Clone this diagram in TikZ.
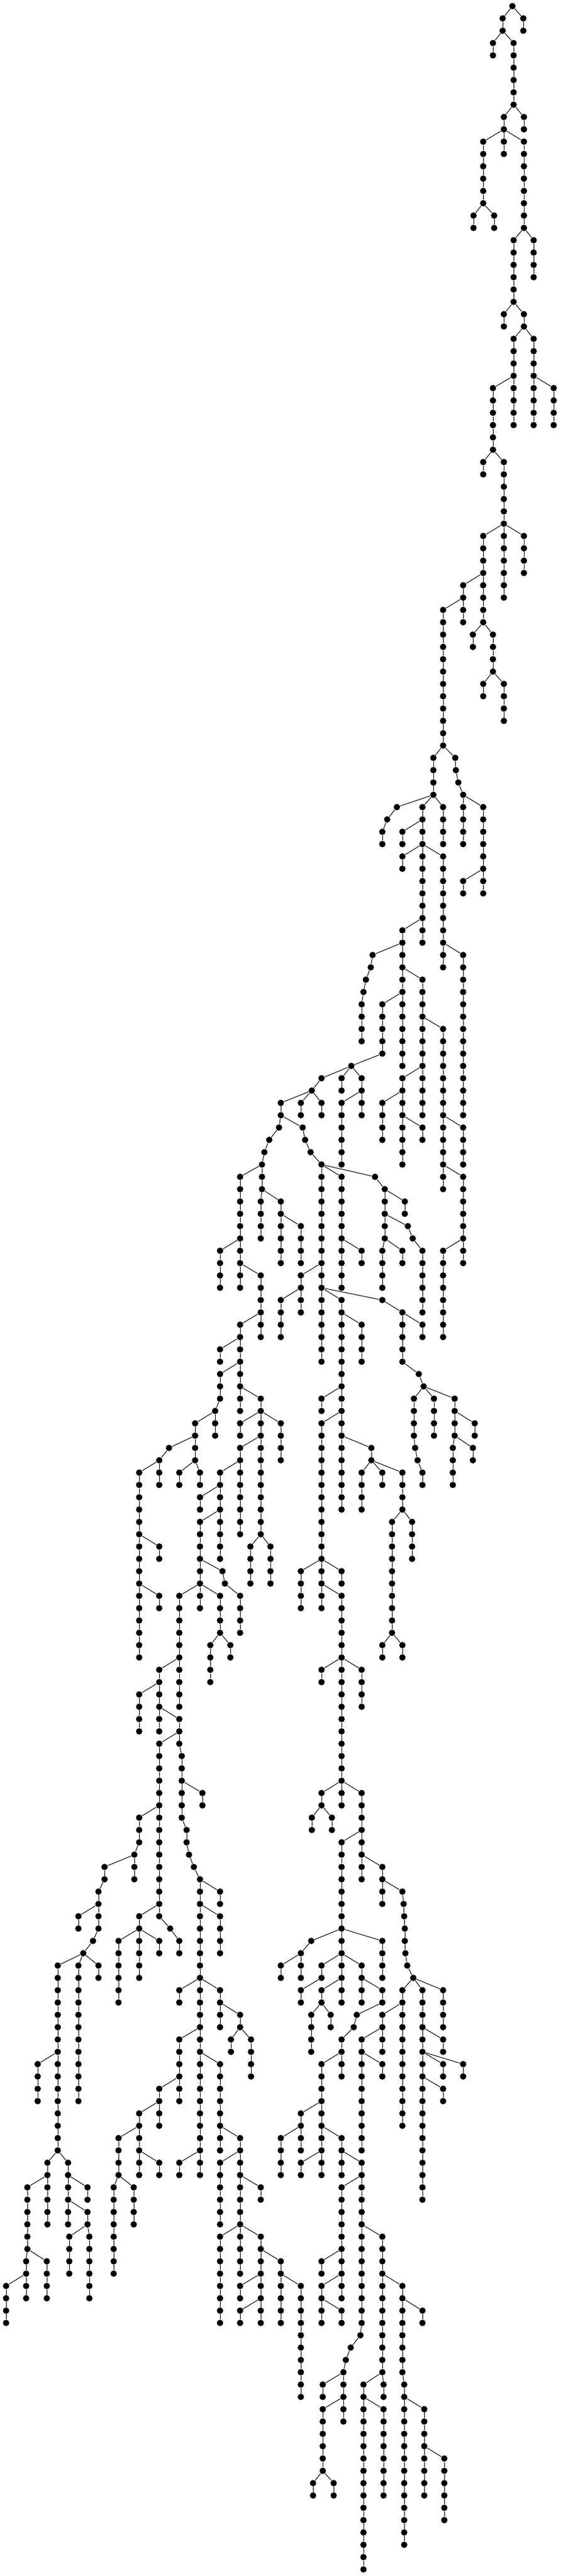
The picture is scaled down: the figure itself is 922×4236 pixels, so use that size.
\documentclass[tikz,border=0pt]{standalone}

\tikzset{every picture/.style={line width=0.75pt}}
\tikzset{treedot/.style={circle,fill=black,inner sep=0pt,minimum size=7.9pt}}

% column / first row / last row / column of the parent (one row above the first)
\def\treechains{827/1/2/843, 861/1/2/843, 811/3/4/827, 845/3/8/827, 829/9/10/845, 862/9/10/845,
795/11/16/829, 829/11/12/829, 862/11/18/829, 779/17/18/795, 813/17/18/795,
845/19/24/862, 878/19/22/862, 829/25/26/845, 862/25/26/845, 845/27/34/862, 878/27/34/862,
811/31/36/845, 911/31/34/878, 795/37/38/811, 829/37/42/811,
795/43/50/829, 829/43/48/829, 862/43/46/829, 762/47/50/795, 729/49/60/762, 778/51/52/795, 811/51/54/795,
795/55/56/811, 829/55/58/811,
713/61/64/729, 749/61/61/729, 750/62/62/749, 754/63/63/750, 762/64/68/754,
653/65/65/713, 637/66/66/653, 629/67/68/637, 695/65/76/713, 729/65/68/713, 662/67/68/695,
662/69/70/695, 729/69/78/695, 795/65/72/762, 762/71/72/795,
662/75/86/695, 762/77/90/729, 613/77/77/662, 610/78/78/613, 602/79/79/610, 598/80/80/602, 595/81/84/598,
695/79/90/662, 629/81/85/662, 578/86/86/629, 729/83/96/695,
662/87/94/695, 529/87/87/578, 562/87/88/578, 595/87/90/578, 562/89/94/595, 629/89/92/662, 695/91/92/662,
762/91/94/729, 762/95/102/729, 729/101/108/762,
513/88/88/529, 462/89/90/513, 495/89/90/513, 529/89/90/513, 459/91/91/462, 498/91/91/462, 443/92/92/459,
435/93/93/443, 431/94/96/435, 395/95/104/431, 362/101/104/395, 429/103/108/395, 429/97/100/431, 462/97/102/431, 495/99/102/462,
502/92/92/498, 511/93/93/502, 529/94/110/511, 562/95/104/529, 617/95/95/529, 633/96/100/617, 666/97/98/633,
671/99/99/633, 679/100/100/671, 695/101/106/679, 629/101/104/633, 662/101/102/633, 595/101/102/562,
495/103/106/529, 462/105/108/495, 562/105/122/529, 629/105/105/529, 662/106/110/629, 695/107/108/662, 595/107/110/562,
689/111/111/662, 697/112/112/689, 681/113/116/697, 714/113/116/697, 748/113/116/697, 781/115/116/748,
745/117/120/748, 778/117/118/748, 683/117/117/681, 687/118/118/683, 695/119/120/687,
395/107/114/429, 362/109/110/395, 362/111/113/395, 354/114/116/362, 429/113/124/395, 395/115/116/429, 462/115/118/429,
395/117/124/429, 362/119/126/395, 329/121/122/362, 329/123/130/362, 366/127/127/329, 370/128/128/366, 395/129/132/370,
295/129/138/329, 362/129/132/329, 346/133/136/362, 379/133/134/362, 412/125/128/429, 445/125/128/429,
321/115/118/354, 278/117/117/321, 262/118/120/278, 229/119/134/262, 262/125/126/229, 262/129/130/229,
295/119/120/321, 329/119/120/321,
262/135/140/295, 229/137/140/262, 295/139/141/262, 299/142/147/295, 333/145/146/299, 307/148/149/299,
311/150/150/307, 319/151/151/311, 329/152/176/319, 362/153/154/329, 362/155/158/329,
262/141/155/295, 229/147/149/262, 221/150/152/229, 172/151/152/221, 162/153/156/172, 129/155/156/162,
153/157/157/162, 137/158/158/153, 95/159/174/137, 129/159/170/137, 162/159/160/137, 62/167/170/95,
229/155/160/262, 195/157/162/229, 262/157/158/229, 280/156/156/262, 295/157/158/280,
295/161/162/329, 362/161/164/329, 395/163/164/362, 380/165/166/395, 413/165/168/395, 295/165/170/329,
262/169/172/295, 229/171/176/262, 195/173/176/229, 262/175/176/229, 187/177/184/195, 220/177/180/195,
362/167/174/329, 395/173/184/362, 362/175/180/395, 429/177/178/395, 362/181/188/395, 429/181/188/395,
462/183/188/429, 395/185/186/429, 395/187/188/429, 495/185/194/462, 295/175/176/329,
78/175/180/95, 45/177/182/78, 43/183/186/45, 77/183/186/45, 10/185/188/43, 112/175/180/95,
144/177/178/112, 144/179/180/112, 114/181/184/144, 147/181/186/144,
529/113/114/562, 529/115/130/562, 611/117/118/562, 595/119/122/611, 629/119/120/611, 662/119/122/611,
645/123/132/662, 678/123/126/662, 629/133/134/645, 662/133/134/645, 495/127/130/529, 562/127/128/529,
562/129/146/529, 529/135/136/562, 595/135/138/562, 529/145/146/562, 513/147/148/529, 546/147/148/529,
595/145/152/562, 562/149/162/595, 629/151/154/595, 662/153/153/629, 664/154/154/662, 665/155/155/664,
666/156/157/665, 667/158/158/666, 670/159/159/667, 680/160/160/670,
512/157/157/562, 629/157/160/562, 495/158/160/512, 462/159/160/495, 529/159/160/562, 595/159/162/562,
495/161/162/529, 529/161/162/562, 512/163/166/529, 544/163/164/529, 629/161/162/595, 587/163/163/629,
582/164/164/587, 562/165/168/582, 529/167/176/562, 495/171/174/529, 462/173/176/495, 562/173/176/529,
495/175/176/529, 595/175/188/562, 562/177/186/595,
629/181/192/595, 529/183/184/562, 529/185/188/562, 562/187/188/529, 593/189/189/595, 577/190/190/593,
569/191/191/577, 565/192/196/569, 531/193/194/565, 531/195/200/565, 515/201/202/531, 549/201/202/531,
662/185/192/629, 695/187/188/662, 665/193/206/662, 698/195/202/665, 731/199/204/698,
598/193/208/629, 631/193/194/629, 631/195/202/598,
662/161/172/680, 695/161/178/680, 729/161/164/680, 629/163/166/662, 595/165/174/629, 629/167/168/595,
729/165/166/695, 729/167/168/695, 762/167/168/695, 729/169/170/695}

\begin{document}
\begin{tikzpicture}[x=0.75pt,y=0.75pt,yscale=-1,xscale=1]
\useasboundingbox (0,0) rectangle (922,4236);

%Shape: Circle, the root
\node [treedot] (n843-0) at (843,10) {};

%Shape: Circle, all the others
\foreach \col/\frow/\lrow/\pcol in \treechains {
  \foreach \row in {\frow,...,\lrow} {
    \node [treedot] (n\col-\row) at (\col,{10+20.265*\row}) {};
  }
}

%Straight Lines
\foreach \col/\frow/\lrow/\pcol in \treechains {
  \foreach \row in {\frow,...,\lrow} {
    \pgfmathtruncatemacro{\prow}{\row-1}
    \ifnum\row=\frow
      \draw (n\pcol-\prow) -- (n\col-\row);
    \else
      \draw (n\col-\prow) -- (n\col-\row);
    \fi
  }
}

\end{tikzpicture}
\end{document}
